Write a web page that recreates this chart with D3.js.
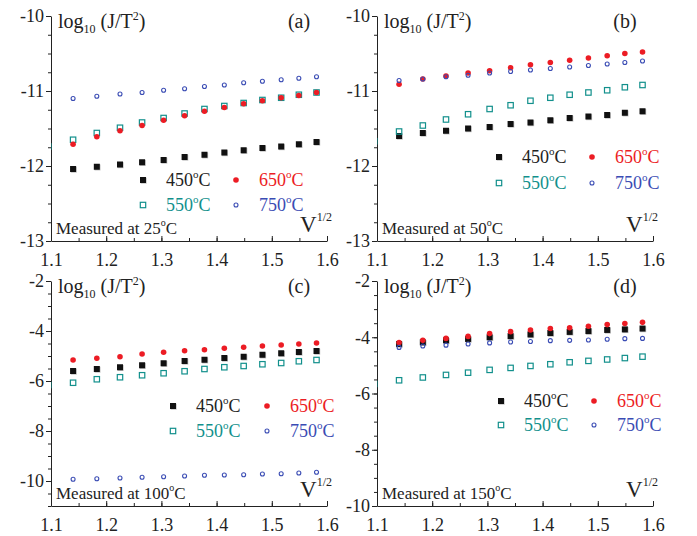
<!DOCTYPE html>
<html>
<head>
<meta charset="utf-8">
<script src="https://cdn.jsdelivr.net/npm/d3@7"></script>
<style>
  body { margin: 0; background: #fff; }
  svg { display: block; font-family: "Liberation Serif", "Times New Roman", serif; }
  .axis path, .axis line { stroke: #222; stroke-width: 1; }
</style>
</head>
<body>
<script>
// x values = V^(1/2)
var xValues = [1.140, 1.183, 1.225, 1.265, 1.304, 1.342, 1.378, 1.414, 1.449, 1.483, 1.517, 1.549, 1.581];
// first 550 point sits just left of the axis, gets clipped
var xLead = 1.095;

var temps = ['450', '550', '650', '750'];
var colors = {'450': '#111', '550': '#12908c', '650': '#ec1c24', '750': '#3a4cb4'};

// (a) measured at 25C
var a450 = [-12.04, -12.01, -11.98, -11.95, -11.92, -11.88, -11.85, -11.82, -11.79, -11.76, -11.74, -11.71, -11.68];
var a550 = [-11.74, -11.65, -11.56, -11.49, -11.42, -11.36, -11.30, -11.24, -11.20, -11.16, -11.12, -11.09, -11.05, -11.02];
var a650 = [-11.71, -11.61, -11.53, -11.46, -11.39, -11.33, -11.27, -11.22, -11.17, -11.13, -11.09, -11.06, -11.02];
var a750 = [-11.10, -11.07, -11.04, -11.02, -10.99, -10.97, -10.94, -10.92, -10.89, -10.87, -10.85, -10.83, -10.81];
// (b) measured at 50C
var b450 = [-11.60, -11.56, -11.53, -11.50, -11.48, -11.44, -11.42, -11.39, -11.36, -11.34, -11.32, -11.29, -11.27];
var b550 = [-11.67, -11.54, -11.46, -11.38, -11.31, -11.24, -11.19, -11.13, -11.09, -11.05, -11.02, -10.99, -10.95, -10.92];
var b650 = [-10.91, -10.84, -10.80, -10.76, -10.73, -10.69, -10.65, -10.62, -10.59, -10.56, -10.53, -10.50, -10.48];
var b750 = [-10.86, -10.84, -10.81, -10.79, -10.76, -10.74, -10.72, -10.70, -10.68, -10.66, -10.64, -10.62, -10.60];
// (c) measured at 100C
var c450 = [-5.60, -5.52, -5.45, -5.37, -5.29, -5.20, -5.15, -5.08, -5.03, -4.95, -4.89, -4.84, -4.80];
var c550 = [-6.16, -6.07, -5.93, -5.85, -5.77, -5.69, -5.61, -5.52, -5.45, -5.40, -5.33, -5.28, -5.21, -5.16];
var c650 = [-5.16, -5.09, -5.03, -4.92, -4.85, -4.79, -4.75, -4.69, -4.65, -4.60, -4.56, -4.52, -4.48];
var c750 = [-9.93, -9.91, -9.88, -9.85, -9.83, -9.80, -9.77, -9.76, -9.75, -9.72, -9.71, -9.68, -9.65];
// (d) measured at 150C
var d450 = [-4.24, -4.18, -4.11, -4.06, -4.00, -3.96, -3.90, -3.85, -3.81, -3.78, -3.74, -3.72, -3.69];
var d550 = [-5.66, -5.53, -5.43, -5.34, -5.26, -5.16, -5.09, -5.02, -4.96, -4.89, -4.84, -4.79, -4.74, -4.69];
var d650 = [-4.19, -4.11, -4.04, -3.97, -3.87, -3.80, -3.74, -3.69, -3.66, -3.61, -3.55, -3.51, -3.47];
var d750 = [-4.36, -4.31, -4.28, -4.24, -4.20, -4.17, -4.15, -4.12, -4.11, -4.10, -4.07, -4.05, -4.04];

var xTicks = [1.1, 1.2, 1.3, 1.4, 1.5, 1.6];
var yTicksTop = [-13, -12, -11, -10];
var yTicksC = [-10, -8, -6, -4, -2];
var yTicksD = [-10, -8, -6, -4, -2];

var panels = [
  {tag: '(a)', meas: '25', left: 51, top: 16, yDom: [-13, -10], yTicks: yTicksTop, yMinor: 0.25,
   vals: {'450': a450, '550': a550, '650': a650, '750': a750}, leg: [92, 185, 164, 25]},
  {tag: '(b)', meas: '50', left: 377, top: 16, yDom: [-13, -10], yTicks: yTicksTop, yMinor: 0.25,
   vals: {'450': b450, '550': b550, '650': b650, '750': b750}, leg: [122, 215, 141, 26]},
  {tag: '(c)', meas: '100', left: 51, top: 281, yDom: [-11, -2], yTicks: yTicksC, yMinor: 0.5,
   vals: {'450': c450, '550': c550, '650': c650, '750': c750}, leg: [122, 216, 125, 25]},
  {tag: '(d)', meas: '150', left: 377, top: 281, yDom: [-10, -2], yTicks: yTicksD, yMinor: 0.5,
   vals: {'450': d450, '550': d550, '650': d650, '750': d750}, leg: [124, 217, 120, 24]}
];

var W = 276, H = 225;
var serif = '"Liberation Serif", "Times New Roman", serif';

var svg = d3.select('body').append('svg')
  .attr('width', 697)
  .attr('height', 536);

function degText(sel, num, small) {
  sel.append('tspan').text(num);
  sel.append('tspan').attr('font-size', small).attr('dy', -8).text('o');
  sel.append('tspan').attr('dy', 8).text('C');
}

function drawMarker(g, t, cx, cy) {
  if (t === '450') {
    g.append('rect').attr('x', cx - 2.3).attr('y', cy - 2.3).attr('width', 6).attr('height', 6)
      .attr('fill', '#999').attr('opacity', 0.6);
    g.append('rect').attr('x', cx - 3).attr('y', cy - 3).attr('width', 6).attr('height', 6)
      .attr('fill', colors[t]);
  } else if (t === '550') {
    g.append('rect').attr('x', cx - 2.7).attr('y', cy - 2.7).attr('width', 5.4).attr('height', 5.4)
      .attr('fill', 'none').attr('stroke', colors[t]).attr('stroke-width', 1.2);
  } else if (t === '650') {
    g.append('circle').attr('cx', cx).attr('cy', cy).attr('r', 2.8).attr('fill', colors[t]);
  } else {
    g.append('circle').attr('cx', cx).attr('cy', cy).attr('r', 2).attr('fill', 'none')
      .attr('stroke', colors[t]).attr('stroke-width', 1.1);
  }
}

function styleAxis(sel) {
  sel.attr('font-family', serif).attr('font-size', 18);
  sel.selectAll('text').attr('fill', '#222');
}

panels.forEach(function(p, i) {
  var g = svg.append('g').attr('transform', 'translate(' + p.left + ',' + p.top + ')');

  var x = d3.scaleLinear().domain([1.1, 1.6]).range([0, W]);
  var y = d3.scaleLinear().domain(p.yDom).range([H, 0]);

  // minor ticks
  var yMinorTicks = d3.range(p.yDom[0], p.yDom[1] + 0.001, p.yMinor);
  g.append('g').attr('class', 'axis')
    .call(d3.axisLeft(y).tickValues(yMinorTicks).tickSize(3).tickSizeOuter(0).tickFormat(''))
    .select('.domain').remove();
  var xMinorTicks = d3.range(1.1, 1.6001, 0.05);
  g.append('g').attr('class', 'axis').attr('transform', 'translate(0,' + H + ')')
    .call(d3.axisBottom(x).tickValues(xMinorTicks).tickSize(-3).tickSizeOuter(0).tickFormat(''))
    .select('.domain').remove();

  // major axes
  g.append('g').attr('class', 'axis')
    .call(d3.axisLeft(y).tickValues(p.yTicks).tickSize(5).tickSizeOuter(0).tickPadding(2)
      .tickFormat(function(d) { return String(d); }))
    .call(styleAxis);
  g.append('g').attr('class', 'axis').attr('transform', 'translate(0,' + H + ')')
    .call(d3.axisBottom(x).tickValues(xTicks).tickSize(-5).tickSizeOuter(0).tickPadding(12)
      .tickFormat(d3.format('.1f')))
    .call(styleAxis);

  // clip
  var clipId = 'clip' + i;
  g.append('clipPath').attr('id', clipId).append('rect')
    .attr('x', 0).attr('y', 0).attr('width', W + 10).attr('height', H);
  var plot = g.append('g').attr('clip-path', 'url(#' + clipId + ')');

  temps.forEach(function(t) {
    var vals = p.vals[t];
    var xs = vals.length > xValues.length ? [xLead].concat(xValues) : xValues;
    vals.forEach(function(v, j) {
      drawMarker(plot, t, x(xs[j]), y(v));
    });
  });

  // titles
  var lab = g.append('text').attr('x', 7).attr('y', 12).attr('font-size', 20).attr('fill', '#222');
  lab.append('tspan').text('log');
  lab.append('tspan').attr('font-size', 12).attr('dy', 5).text('10');
  lab.append('tspan').attr('dy', -5).text(' (J/T');
  lab.append('tspan').attr('font-size', 12).attr('dy', -8).text('2');
  lab.append('tspan').attr('dy', 8).text(')');

  g.append('text').attr('x', 248).attr('y', 12).attr('text-anchor', 'middle')
    .attr('font-size', 20).attr('fill', '#222').text(p.tag);

  var m = g.append('text').attr('x', 5).attr('y', H - 7).attr('font-size', 17).attr('fill', '#222');
  m.append('tspan').text('Measured at ' + p.meas);
  m.append('tspan').attr('font-size', 10).attr('dy', -8).text('o');
  m.append('tspan').attr('dy', 8).text('C');

  var v = g.append('text').attr('x', W + 5).attr('y', H - 9).attr('text-anchor', 'end')
    .attr('font-size', 23).attr('fill', '#222');
  v.append('tspan').text('V');
  v.append('tspan').attr('font-size', 12).attr('dy', -11).text('1/2');

  // legend
  var leg = p.leg;
  var legendRows = [['450', '650'], ['550', '750']];
  legendRows.forEach(function(row, r) {
    row.forEach(function(t, c) {
      var mx = c === 0 ? leg[0] : leg[1];
      var my = leg[2] + r * leg[3];
      drawMarker(g, t, mx, my);
      var tx = g.append('text').attr('x', mx + 23).attr('y', my + 6)
        .attr('font-size', 18).attr('fill', colors[t] === '#111' ? '#222' : colors[t]);
      degText(tx, t, 11);
    });
  });
});
</script>
</body>
</html>
